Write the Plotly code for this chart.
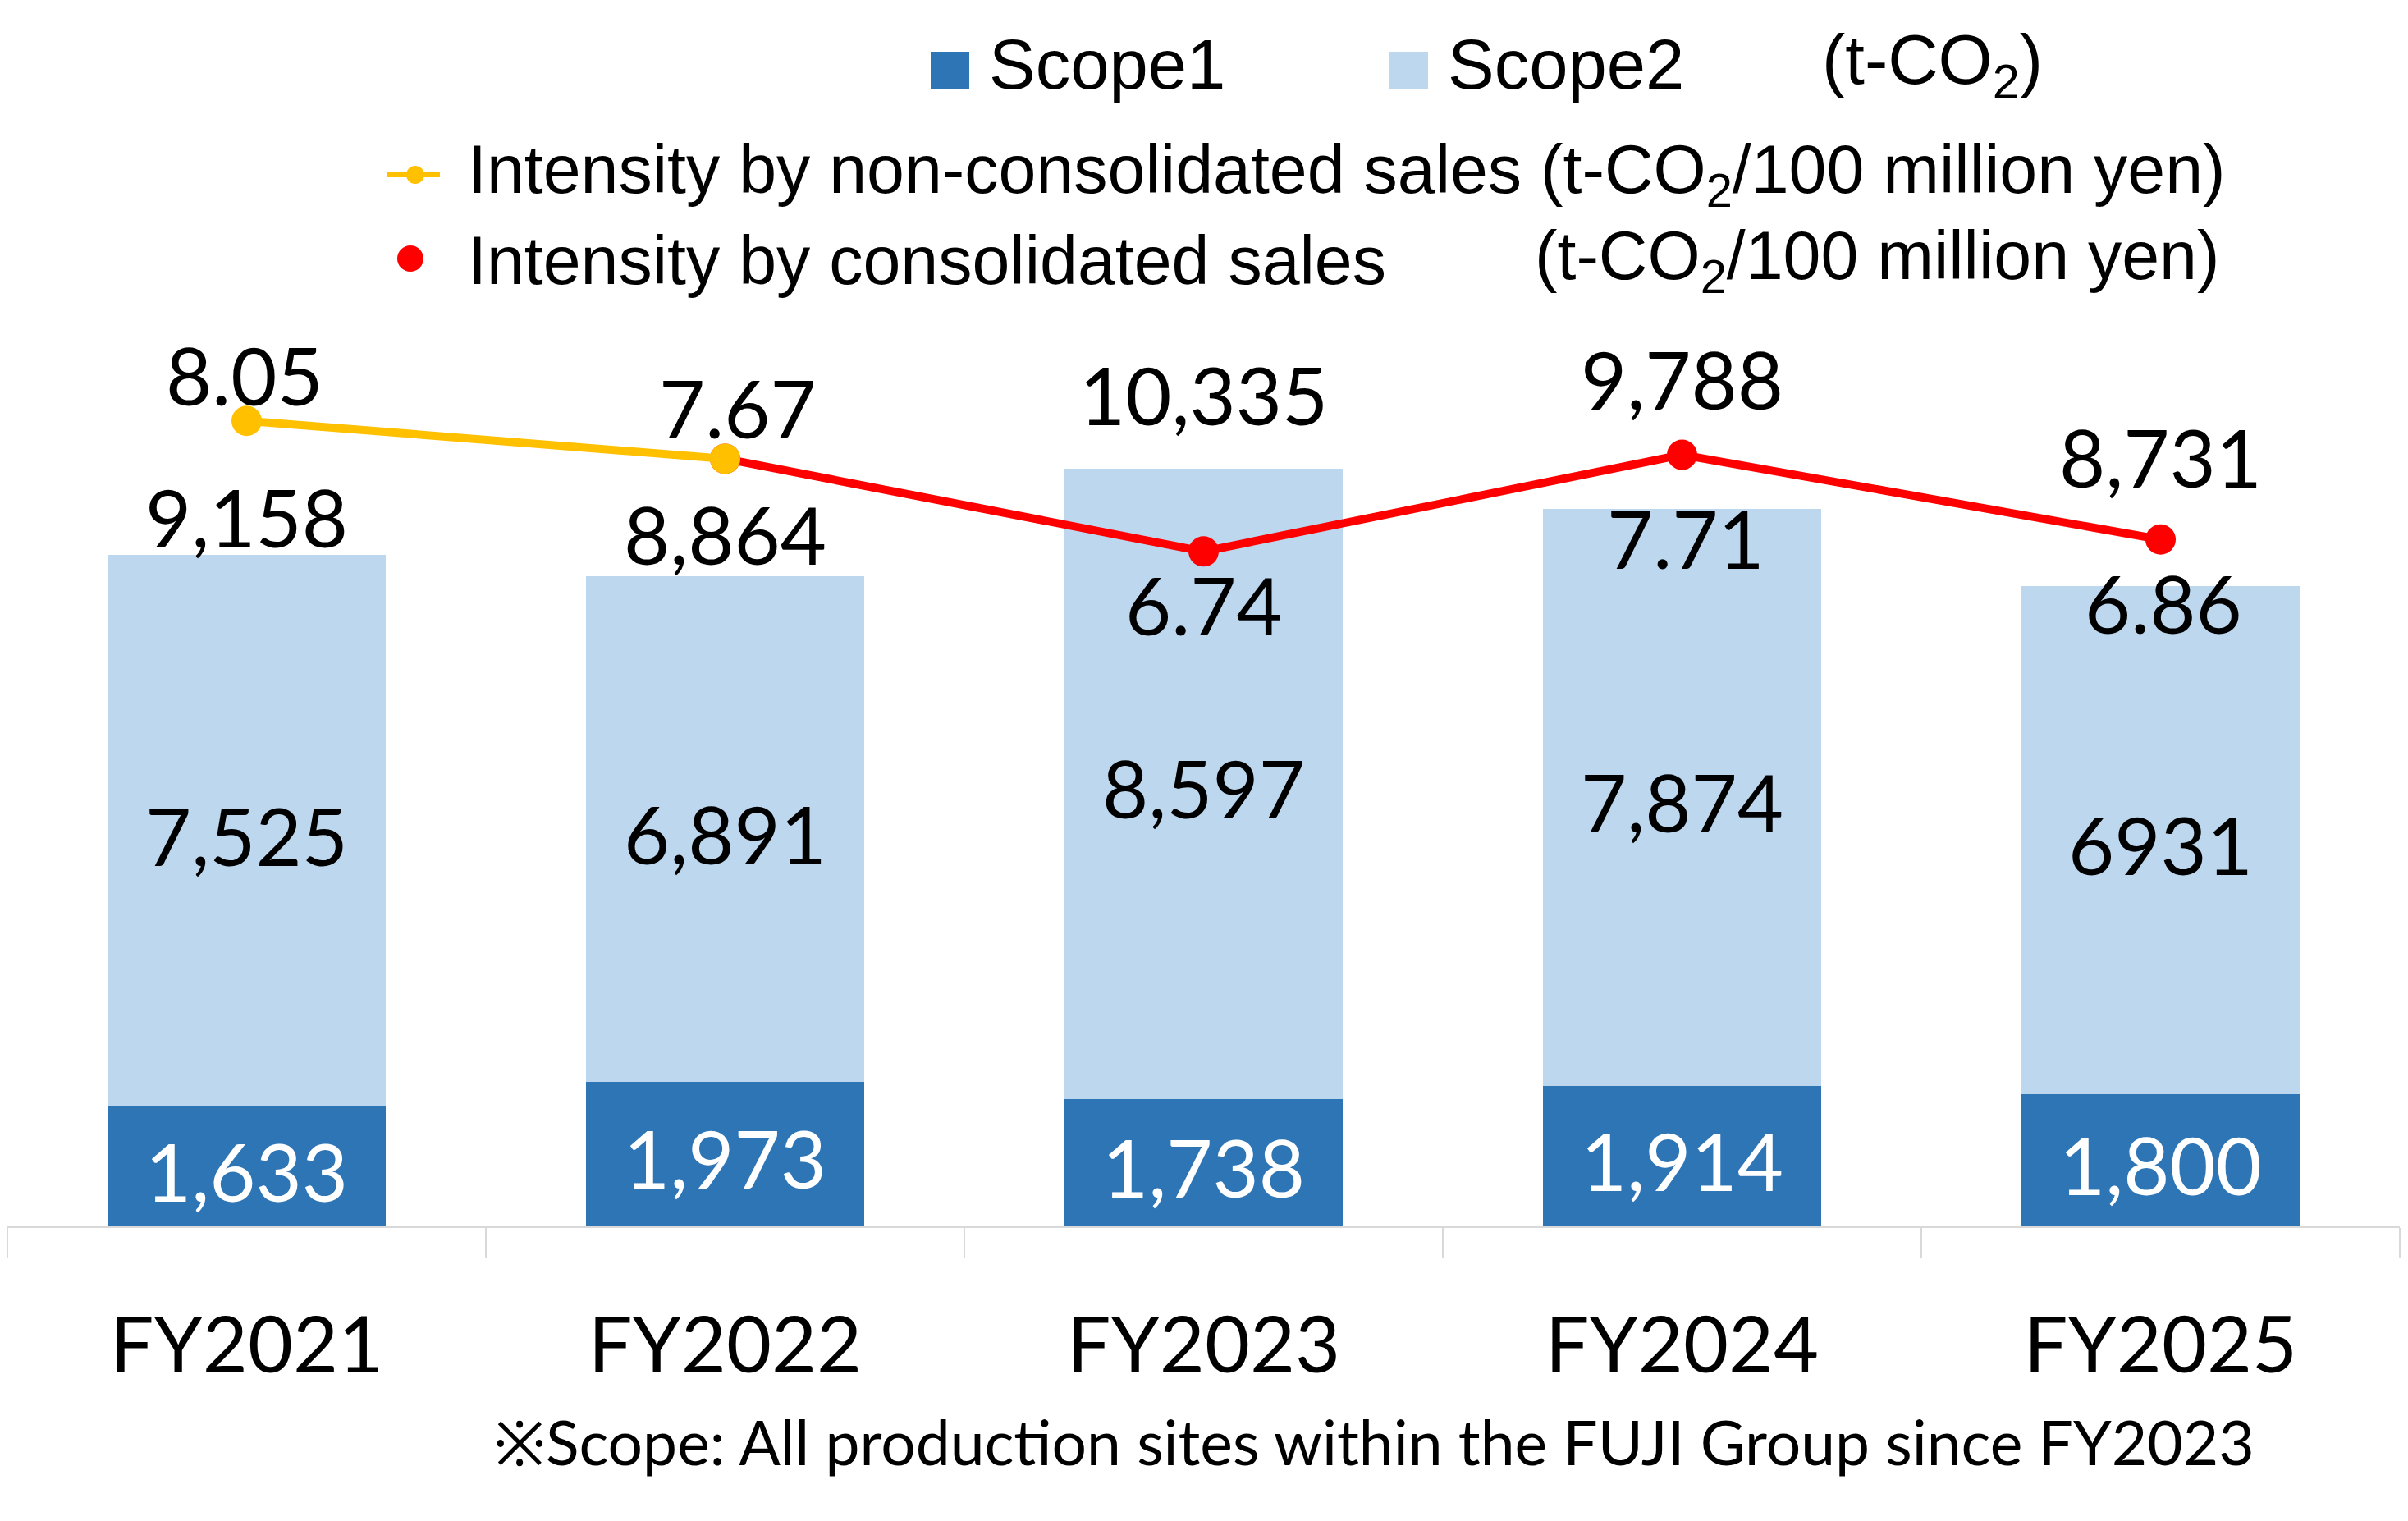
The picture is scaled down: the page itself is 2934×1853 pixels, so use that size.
import plotly.graph_objects as go

# ---------------- data ----------------
categories = ["FY2021", "FY2022", "FY2023", "FY2024", "FY2025"]
scope1 = [1633, 1973, 1738, 1914, 1800]
scope2 = [7525, 6891, 8597, 7874, 6931]
intensity_nonconsolidated = [8.05, 7.67, None, None, None]
intensity_consolidated = [None, 7.67, 6.74, 7.71, 6.86]
intensity_labels_src = [8.05, 7.67, 6.74, 7.71, 6.86]
footnote = "※Scope: All production sites within the FUJI Group since FY2023"

# ---------------- styles / layout constants ----------------
W, H = 2934, 1853
L, R, T, B = 9, 10, 0, 359
PW, PH = W - L - R, H - T - B
C_S1, C_S2 = "#2E75B6", "#BDD7EE"
C_Y, C_R = "#FFC000", "#FF0000"
LABEL_FONT = "Lato, 'Open Sans', sans-serif"
LEG_FONT = "'Liberation Sans', Arial, sans-serif"
LBL_SIZE = 97

# per-label vertical offsets (px, positive = up)
total_label_shift = [47, 52, 91, 158, 158]
intensity_label_shift = [56, 62, -65, -101, -77]
intensity_label_xshift = [-3, 15, 0, 4, 3]


def pxx(x):
    return (x - L) / PW


def pxy(y):
    return (PH + T - y) / PH


totals = [a + b for a, b in zip(scope1, scope2)]
scope1_labels = [f"{v:,}" for v in scope1]
scope2_labels = [f"{v:,}" for v in scope2]
scope2_labels[4] = str(scope2[4])  # printed without separator in source
total_labels = [f"{v:,}" for v in totals]

fig = go.Figure()
fig.add_trace(go.Bar(x=categories, y=scope1, marker=dict(color=C_S1, line=dict(width=0)),
                     name="Scope1", hoverinfo="skip"))
fig.add_trace(go.Bar(x=categories, y=scope2, marker=dict(color=C_S2, line=dict(width=0)),
                     name="Scope2", hoverinfo="skip"))
fig.add_trace(go.Scatter(x=categories, y=intensity_consolidated, yaxis="y2", mode="lines+markers",
                         line=dict(color=C_R, width=10), marker=dict(color=C_R, size=37),
                         name="Intensity by consolidated sales", hoverinfo="skip"))
fig.add_trace(go.Scatter(x=categories, y=intensity_nonconsolidated, yaxis="y2", mode="lines+markers",
                         line=dict(color=C_Y, width=10), marker=dict(color=C_Y, size=37),
                         name="Intensity by non-consolidated sales", hoverinfo="skip"))

ann = []
for i, c in enumerate(categories):
    ann.append(dict(x=c, y=scope1[i] / 2, xref="x", yref="y", text=scope1_labels[i], showarrow=False,
                    yanchor="middle", yshift=-5, font=dict(family=LABEL_FONT, size=LBL_SIZE, color="white")))
    ann.append(dict(x=c, y=scope1[i] + scope2[i] / 2, xref="x", yref="y", text=scope2_labels[i],
                    showarrow=False, yanchor="middle", yshift=-5,
                    font=dict(family=LABEL_FONT, size=LBL_SIZE, color="black")))
    ann.append(dict(x=c, y=totals[i], xref="x", yref="y", text=total_labels[i], showarrow=False,
                    yanchor="middle", yshift=total_label_shift[i],
                    font=dict(family=LABEL_FONT, size=LBL_SIZE, color="black")))
    ann.append(dict(x=c, y=intensity_labels_src[i], xref="x", yref="y2", text=f"{intensity_labels_src[i]:.2f}",
                    showarrow=False, yanchor="middle", yshift=intensity_label_shift[i],
                    xshift=intensity_label_xshift[i],
                    font=dict(family=LABEL_FONT, size=LBL_SIZE, color="black")))

# footnote
ann.append(dict(x=pxx(1674), y=pxy(1756), xref="paper", yref="paper", text=footnote, showarrow=False,
                xanchor="center", yanchor="middle", font=dict(family=LABEL_FONT, size=75, color="black")))

# custom legend
leg_size1 = 85
leg_size2 = 82.5
ann += [
    dict(x=pxx(1203), y=pxy(79), text="Scope1", xanchor="left"),
    dict(x=pxx(1762), y=pxy(79), text="Scope2", xanchor="left"),
    dict(x=pxx(2218), y=pxy(79), text="(t-CO<sub>2</sub>)", xanchor="left"),
]
for a in ann[-3:]:
    a.update(xref="paper", yref="paper", showarrow=False, yanchor="middle",
             font=dict(family=LEG_FONT, size=leg_size1, color="black"))
row = [
    dict(x=pxx(568), y=pxy(212), text="Intensity by non-consolidated sales (t-CO<sub>2</sub>/100 million yen)"),
    dict(x=pxx(568), y=pxy(317), text="Intensity by consolidated sales"),
    dict(x=pxx(1868), y=pxy(317), text="(t-CO<sub>2</sub>/100 million yen)"),
]
for a in row:
    a.update(xref="paper", yref="paper", showarrow=False, xanchor="left", yanchor="middle",
             font=dict(family=LEG_FONT, size=leg_size2, color="black"))
ann += row

shapes = [
    dict(type="rect", xref="paper", yref="paper", x0=pxx(1134), x1=pxx(1181), y0=pxy(109), y1=pxy(63),
         fillcolor=C_S1, line=dict(width=0)),
    dict(type="rect", xref="paper", yref="paper", x0=pxx(1693), x1=pxx(1740), y0=pxy(109), y1=pxy(63),
         fillcolor=C_S2, line=dict(width=0)),
    dict(type="line", xref="paper", yref="paper", x0=pxx(472), x1=pxx(536), y0=pxy(213), y1=pxy(213),
         line=dict(color=C_Y, width=6)),
    dict(type="circle", xref="paper", yref="paper", x0=pxx(495), x1=pxx(517), y0=pxy(224), y1=pxy(202),
         fillcolor=C_Y, line=dict(width=0)),
    dict(type="circle", xref="paper", yref="paper", x0=pxx(484), x1=pxx(516), y0=pxy(331), y1=pxy(299),
         fillcolor=C_R, line=dict(width=0)),
]

fig.update_layout(
    width=W, height=H,
    margin=dict(l=L, r=R, t=T, b=B, pad=0),
    paper_bgcolor="white", plot_bgcolor="white",
    barmode="stack", bargap=0.42,
    showlegend=False,
    annotations=ann, shapes=shapes,
    xaxis=dict(type="category", showline=True, linecolor="#D9D9D9", linewidth=2,
               ticks="outside", tickson="boundaries", ticklen=36, tickwidth=2, tickcolor="#D9D9D9",
               tickfont=dict(family=LABEL_FONT, size=95, color="black"),
               ticklabelstandoff=62, showgrid=False, zeroline=False),
    yaxis=dict(range=[0, 16730], visible=False, showgrid=False, zeroline=False),
    yaxis2=dict(range=[-0.033, 12.274], overlaying="y", side="right", visible=False,
                showgrid=False, zeroline=False),
)

fig.write_html("out.html")
